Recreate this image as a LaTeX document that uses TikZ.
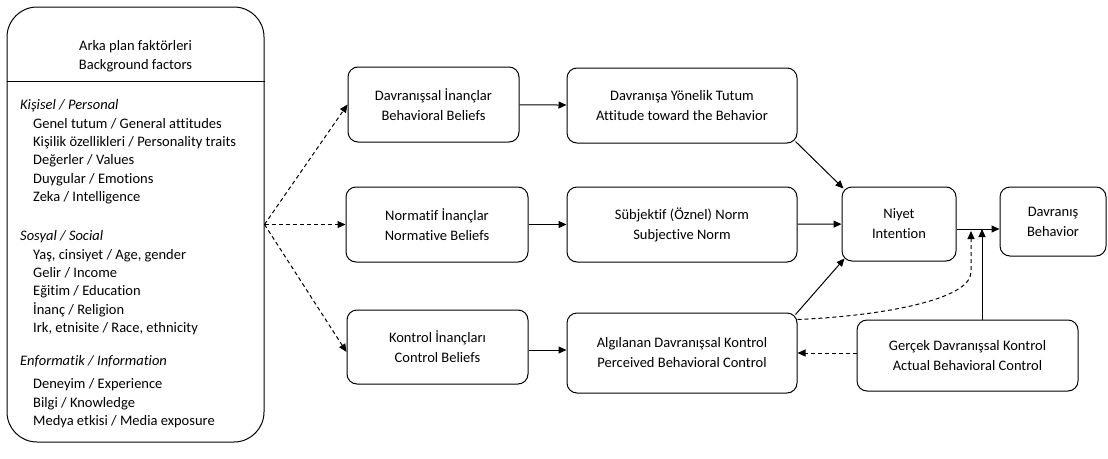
\documentclass[tikz,border=0pt]{standalone}
\usepackage{fontspec}
\setmainfont[Ligatures=NoCommon]{Carlito}
\usepackage{tikz}
\usetikzlibrary{arrows.meta}

\begin{document}
\begin{tikzpicture}[x=1pt,y=-1pt,
    kutu/.style={draw,rounded corners=10pt,line width=1pt,align=center,font=\fontsize{14.5}{20}\selectfont},
    madde/.style={anchor=base west,inner sep=0pt,font=\fontsize{14.5}{16}\selectfont},
    ok/.style={-{Triangle[length=8pt,width=7pt]},line width=1pt},
    kesik/.style={ok,dash pattern=on 4pt off 3pt}]
    \useasboundingbox (0,0) rectangle (1108,458);
    % arka plan kutusu
    \node[draw,rounded corners=30pt,line width=1pt,minimum width=257pt,minimum height=435pt] (bg) at (135.5,224.5) {};
    \coordinate (ayir) at (0,81);
    \draw[line width=1pt] (bg.west |- ayir) -- (bg.east |- ayir);
    \node[align=center,font=\fontsize{14.5}{18.5}\selectfont] (baslik) at (135.5,56) {Arka plan faktörleri\\Background factors};
    \node[madde] (k0) at (20,109) {\itshape Kişisel / Personal};
    \node[madde] (k1) at (33,128) {Genel tutum / General attitudes};
    \node[madde] (k2) at (33,146) {Kişilik özellikleri / Personality traits};
    \node[madde] (k3) at (33,164) {Değerler / Values};
    \node[madde] (k4) at (33,183) {Duygular / Emotions};
    \node[madde] (k5) at (33,201) {Zeka / Intelligence};
    \node[madde] (s0) at (20,240) {\itshape Sosyal / Social};
    \node[madde] (s1) at (33,259) {Yaş, cinsiyet / Age, gender};
    \node[madde] (s2) at (33,277) {Gelir / Income};
    \node[madde] (s3) at (33,295) {Eğitim / Education};
    \node[madde] (s4) at (33,314) {İnanç / Religion};
    \node[madde] (s5) at (33,332) {Irk, etnisite / Race, ethnicity};
    \node[madde] (e0) at (20,365) {\itshape Enformatik / Information};
    \node[madde] (e1) at (33,388) {Deneyim / Experience};
    \node[madde] (e2) at (33,407) {Bilgi / Knowledge};
    \node[madde] (e3) at (33,425) {Medya etkisi / Media exposure};
    % inanclar
    \node[kutu,minimum width=171pt,minimum height=75pt] (bb) at (433.5,104.5) {Davranışsal İnançlar\\Behavioral Beliefs};
    \node[kutu,minimum width=182pt,minimum height=75pt] (nb) at (437,224.5) {Normatif İnançlar\\Normative Beliefs};
    \node[kutu,minimum width=181pt,minimum height=74pt] (cb) at (437.5,347) {Kontrol İnançları\\Control Beliefs};
    % tutum, norm, kontrol
    \node[kutu,minimum width=230pt,minimum height=75pt] (att) at (682,105.5) {Davranışa Yönelik Tutum\\Attitude toward the Behavior};
    \node[kutu,minimum width=230pt,minimum height=75pt] (sn) at (682,224.5) {Sübjektif (Öznel) Norm\\Subjective Norm};
    \node[kutu,minimum width=230pt,minimum height=80pt] (pbc) at (682,353) {Algılanan Davranışsal Kontrol\\Perceived Behavioral Control};
    % niyet, davranis
    \node[kutu,minimum width=114pt,minimum height=74pt] (niyet) at (899,224) {Niyet\\Intention};
    \node[kutu,minimum width=106pt,minimum height=69pt] (davr) at (1053,221.5) {Davranış\\Behavior};
    \node[kutu,minimum width=221pt,minimum height=71pt] (abc) at (967.5,355.5) {Gerçek Davranışsal Kontrol\\Actual Behavioral Control};
    \coordinate (j) at (982,229);
    \coordinate (jd) at (971,231);
    \coordinate (c) at (0,350);
    % oklar
    \draw[kesik] (bg.east) -- (bb.west);
    \draw[kesik] (bg.east) -- (nb.west);
    \draw[kesik] (bg.east) -- ([yshift=-5pt]cb.west);
    \draw[ok] (bb) -- (att);
    \draw[ok] (nb) -- (sn);
    \draw[ok] (cb.east |- c) -- (pbc.west |- c);
    \draw[ok] ([shift={(-2pt,2pt)}]att.south east) -- ([shift={(2pt,-2pt)}]niyet.north west);
    \draw[ok] (sn) -- (niyet);
    \draw[ok] ([shift={(-2pt,-2pt)}]pbc.north east) -- ([shift={(3pt,3pt)}]niyet.south west);
    \draw[ok] (niyet.east |- j) -- (davr.west |- j);
    \draw[ok] (j |- abc.north) -- (j);
    \draw[kesik] ([yshift=-7pt]pbc.north east) .. controls (880,316) and (971,300) .. (971,272) -- (jd);
    \draw[kesik] (abc.west |- pbc.east) -- (pbc.east);
\end{tikzpicture}
\end{document}
